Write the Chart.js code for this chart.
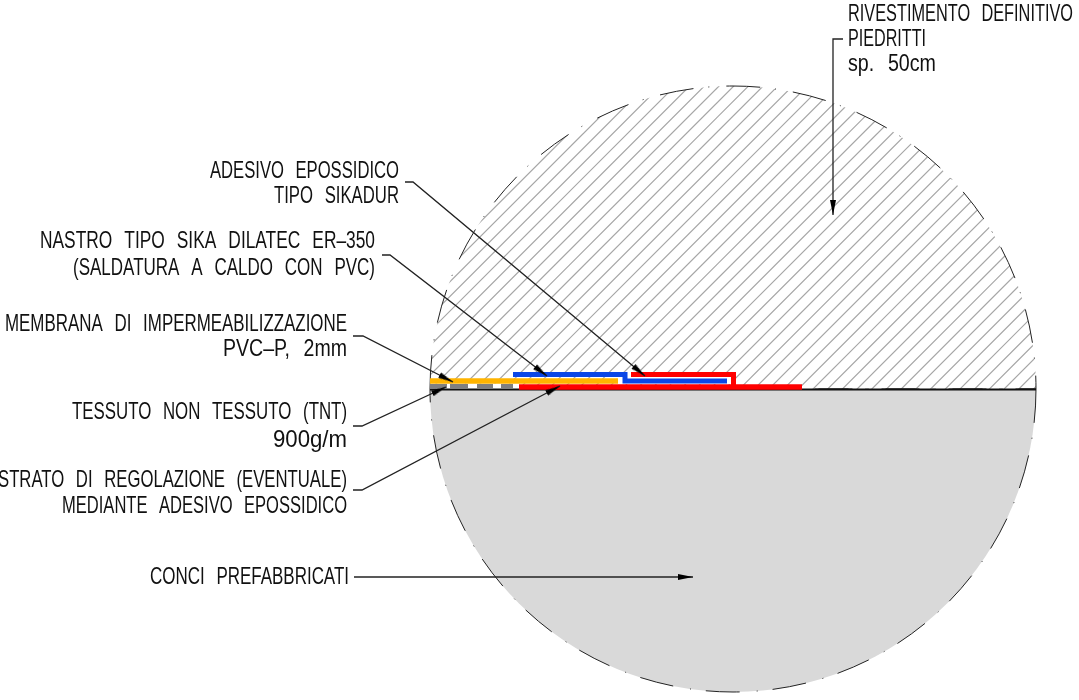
<!DOCTYPE html>
<html>
<head>
<meta charset="utf-8">
<script src="https://cdn.jsdelivr.net/npm/chart.js@4"></script>
<style>
  html, body { margin: 0; padding: 0; background: #fff; overflow: hidden; }
  canvas { position: absolute; }
  #sezione { left: 423px; top: 79px; }
  #dettaglio { left: 0; top: 0; }
</style>
</head>
<body>
<canvas id="sezione" width="620" height="620"></canvas>
<canvas id="dettaglio" width="1079" height="700"></canvas>
<script>
// Sezione circolare: meta rivestimento, meta conci
const sezioni = ['Rivestimento definitivo', 'Conci prefabbricati'];
const sezioniValori = [50, 50];

// Strati del giunto (coordinate del disegno)
const baseX = [430, 1036];
const baseY = [389.5, 389.5];
const tntX = [430, 447, null, 450, 468, null, 477, 493, null, 501, 513];
const tntY = [386.5, 386.5, null, 386.5, 386.5, null, 386.5, 386.5, null, 386.5, 386.5];
const membranaX = [430, 618];
const membranaY = [381, 381];
const nastroX = [513, 625, 625, 727];
const nastroY = [374.5, 374.5, 381, 381];
const adesivoX = [631, 733.5, 733.5];
const adesivoY = [374.5, 374.5, 387];
const regolazioneX = [519, 802];
const regolazioneY = [387, 387];

// Linee di richiamo: l'ultimo punto e la punta della freccia
const richiami = [
  { x: [843, 833, 833], y: [39, 39, 215] },
  { x: [405, 413, 645], y: [182, 182, 376] },
  { x: [382, 390, 547], y: [255, 255, 376] },
  { x: [353, 363, 453], y: [336, 336, 382] },
  { x: [353, 362, 446], y: [426, 426, 387] },
  { x: [353, 362, 560], y: [490, 490, 386] },
  { x: [354, 693], y: [577, 577] }
];

// Testi
const testi = [
  'RIVESTIMENTO DEFINITIVO', 'PIEDRITTI', 'sp. 50cm',
  'ADESIVO EPOSSIDICO', 'TIPO SIKADUR',
  'NASTRO TIPO SIKA DILATEC ER–350', '(SALDATURA A CALDO CON PVC)',
  'MEMBRANA DI IMPERMEABILIZZAZIONE', 'PVC–P, 2mm',
  'TESSUTO NON TESSUTO (TNT)', '900g/m',
  'STRATO DI REGOLAZIONE (EVENTUALE)', 'MEDIANTE ADESIVO EPOSSIDICO',
  'CONCI PREFABBRICATI'
];
const testiSx = [848, 848, 848, 210, 274, 40, 73, 5, 223, 72, 273, -2, 62, 150];
const testiDx = [1073, 926, 936, 399, 399, 375, 375, 347, 347, 347, 347, 347, 347, 349];
const testiY = [21, 46, 71, 178, 203, 248, 275, 331, 356, 419, 447, 487, 513, 584];

const punti = (xs, ys) => xs.map((x, i) => ({ x: x, y: ys[i] }));

function tratteggio() {
  // tassello di 10 passi: il passo del disegno e 14.7 px
  const c = document.createElement('canvas');
  c.width = 147; c.height = 147;
  const g = c.getContext('2d');
  g.strokeStyle = '#a6a6a6';
  g.lineWidth = 1.2;
  g.beginPath();
  for (let k = -1; k < 22; k++) {
    const q = 9.1 + k * 14.7;
    g.moveTo(q + 5, -5); g.lineTo(q - 152, 152);
  }
  g.stroke();
  return g.createPattern(c, 'repeat');
}

function punta() {
  const c = document.createElement('canvas');
  c.width = 48; c.height = 8;
  const g = c.getContext('2d');
  g.fillStyle = '#000';
  g.beginPath();
  g.moveTo(24, 4); g.lineTo(9, 1); g.lineTo(9, 7);
  g.closePath();
  g.fill();
  return c;
}

new Chart(document.getElementById('sezione'), {
  type: 'pie',
  data: {
    labels: sezioni,
    datasets: [{
      data: sezioniValori,
      backgroundColor: [tratteggio(), '#d9d9d9'],
      borderColor: '#222',
      borderWidth: 1,
      borderDash: [34, 15, 1, 17],
      hoverOffset: 0
    }]
  },
  options: {
    responsive: false,
    animation: false,
    rotation: -90,
    radius: 303,
    layout: { padding: 0 },
    plugins: { legend: { display: false }, tooltip: { enabled: false } }
  }
});

const linea = (xs, ys, colore, spessore) => ({
  data: punti(xs, ys),
  showLine: true,
  borderColor: colore,
  backgroundColor: colore,
  borderWidth: spessore,
  pointRadius: 0,
  borderJoinStyle: 'miter',
  borderCapStyle: 'butt'
});

const immaginePunta = punta();
const freccia = r => {
  const n = r.x.length - 1;
  const gradi = Math.atan2(r.y[n] - r.y[n - 1], r.x[n] - r.x[n - 1]) * 180 / Math.PI;
  return {
    data: [{ x: r.x[n], y: r.y[n] }],
    showLine: false,
    pointStyle: immaginePunta,
    pointRotation: gradi,
    pointRadius: 10
  };
};

const scritte = {
  id: 'scritte',
  afterDatasetsDraw(chart) {
    const g = chart.ctx;
    const sx = chart.scales.x, sy = chart.scales.y;
    g.save();
    g.fillStyle = '#111';
    g.font = '24px "Liberation Sans Narrow", "Liberation Sans"';
    g.textAlign = 'left';
    g.textBaseline = 'alphabetic';
    g.wordSpacing = '10px';
    testi.forEach((t, i) => {
      const x0 = sx.getPixelForValue(testiSx[i]);
      const x1 = sx.getPixelForValue(testiDx[i]);
      g.save();
      g.translate(x0, sy.getPixelForValue(testiY[i]));
      g.scale((x1 - x0) / g.measureText(t).width, 1);
      g.fillText(t, 0, 0);
      g.restore();
    });
    g.restore();
  }
};

// Chart.js disegna per primo l'ultimo dataset: i richiami restano sopra
new Chart(document.getElementById('dettaglio'), {
  type: 'scatter',
  data: {
    datasets: [
      ...richiami.map(r => freccia(r)),
      ...richiami.map(r => linea(r.x, r.y, '#222', 1.3)),
      linea(tntX, tntY, '#808080', 5),
      linea(membranaX, membranaY, '#ffb400', 5.5),
      linea(nastroX, nastroY, '#0a46e6', 5),
      linea(adesivoX, adesivoY, '#ff0000', 5),
      linea(regolazioneX, regolazioneY, '#ff0000', 5.5),
      linea(baseX, baseY, '#111', 2),
      linea([430, 519], [386.5, 386.5], '#fff', 6),
      linea([617, 731], [378, 378], '#fff', 12)
    ]
  },
  options: {
    responsive: false,
    animation: false,
    layout: { padding: 0, autoPadding: false },
    scales: {
      x: { type: 'linear', min: 0, max: 1079, display: false },
      y: { type: 'linear', min: 0, max: 700, reverse: true, display: false }
    },
    plugins: { legend: { display: false }, tooltip: { enabled: false } }
  },
  plugins: [scritte]
});
</script>
</body>
</html>
